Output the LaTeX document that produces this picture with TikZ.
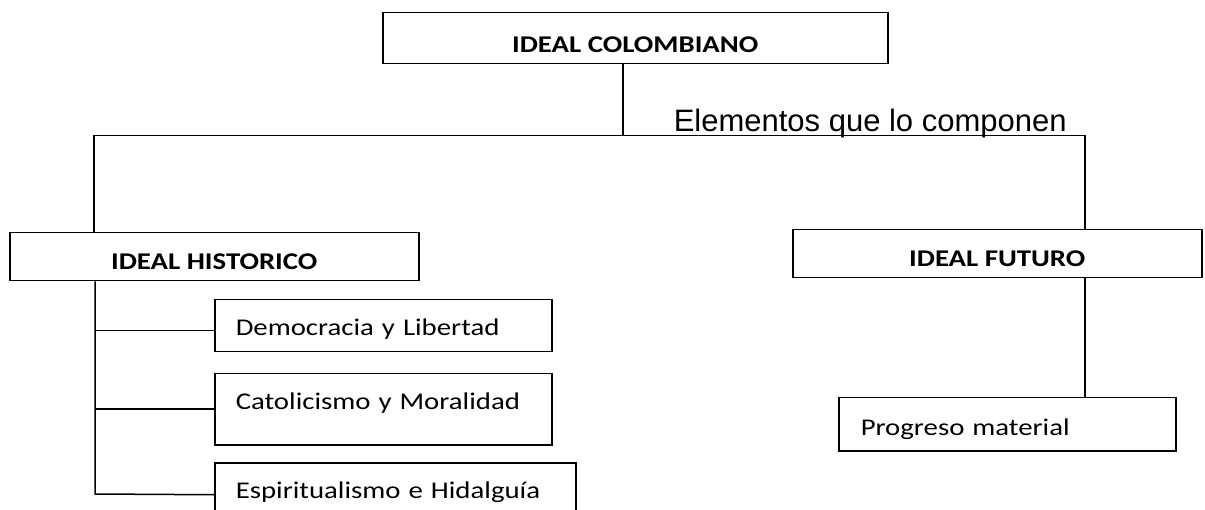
\documentclass[tikz,border=0pt]{standalone}
\usepackage{fontspec}
\setmainfont{Carlito}[FakeStretch=1.2]
\newfontfamily\arialfont{Liberation Sans}
\usetikzlibrary{positioning}

\begin{document}
\begin{tikzpicture}[x=1pt,y=-1pt,line width=1.5pt,
    caja/.style={draw,rectangle,inner sep=0pt,anchor=north west,font=\fontsize{24}{28}\selectfont},
    titulo/.style={caja,font=\fontsize{24}{28}\selectfont\bfseries},
    item/.style={caja,align=left,inner xsep=21pt}]
  \useasboundingbox (0,0) rectangle (1205,510);
  \clip (0,0) rectangle (1205,510);
  % cajas
  \node[titulo,minimum width=505pt,text height=40pt,text depth=11pt] (col) at (382,12) {IDEAL COLOMBIANO};
  \node[titulo,minimum width=409pt,text height=37pt,text depth=11pt] (hist) at (9,232) {IDEAL HISTORICO};
  \node[titulo,minimum width=409pt,text height=37pt,text depth=11pt] (fut) at (792,229) {IDEAL FUTURO};
  \node[item,text width=295pt,text height=36pt,text depth=16pt] (dem) at (214,299) {Democracia y Libertad};
  \node[item,text width=295pt,text height=36pt,text depth=35pt] (cat) at (214,373) {Catolicismo y Moralidad};
  \node[item,text width=319pt,text height=36pt,text depth=28pt] (esp) at (214,462) {Espiritualismo e Hidalguía};
  \node[item,inner xsep=22pt,text width=293pt,text height=38pt,text depth=15pt] (prog) at (838,397) {Progreso material};
  \node[anchor=base west,inner sep=0pt,font=\arialfont\fontsize{31}{36}\selectfont] (elem) at (673,132) {Elementos que lo componen};
  % lineas
  \coordinate (rama) at (623,135.5);
  \coordinate (izq) at (94,135.5);
  \coordinate (der) at (1085,135.5);
  \coordinate (tronco) at (95,494);
  \draw (col.south -| rama) -- (rama);
  \draw (hist.north -| izq) -- (izq) -- (der) -- (fut.north -| der);
  \draw (fut.south -| der) -- (prog.north -| der);
  \draw (hist.south -| tronco) -- (tronco) -- (esp.west);
  \draw ([yshift=-5pt]dem.west) -- ([yshift=-5pt]dem.west -| tronco);
  \draw (cat.west) -- (cat.west -| tronco);
\end{tikzpicture}
\end{document}
